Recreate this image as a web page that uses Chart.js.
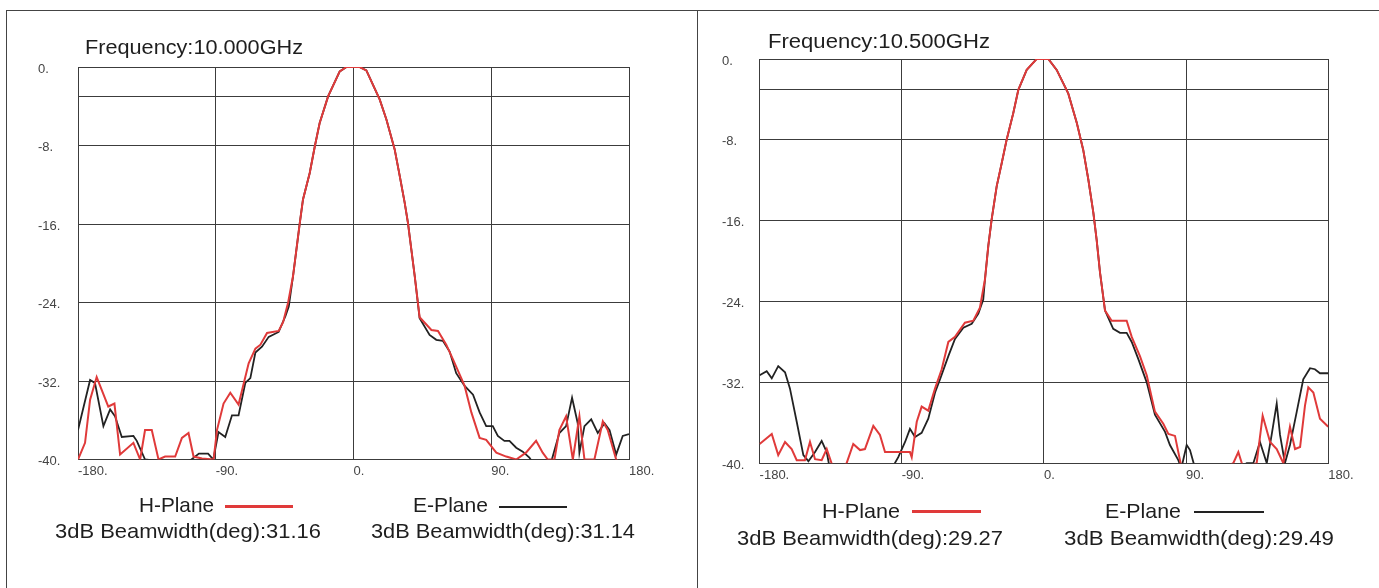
<!DOCTYPE html>
<html>
<head>
<meta charset="utf-8">
<script src="https://cdn.jsdelivr.net/npm/chart.js@4.4.0/dist/chart.umd.min.js"></script>
<style>
  html, body { margin:0; padding:0; background:#fff; }
  #stage { position:relative; width:1379px; height:588px; overflow:hidden; background:#fff; }
  canvas { position:absolute; top:0; }
  .t { position:absolute; white-space:nowrap; font-family:"Liberation Sans", Arial, sans-serif; color:#1e1e1e; transform-origin:0 50%; line-height:1; }
  .ln { position:absolute; background:#444; }
  .sw { position:absolute; height:2px; }
</style>
</head>
<body>
<div id="stage">
  <div class="ln" style="left:6px; top:10px; width:1373px; height:1px;"></div>
  <div class="ln" style="left:6px; top:10px; width:1px; height:578px;"></div>
  <div class="ln" style="left:697px; top:10px; width:1px; height:578px;"></div>
  <canvas id="c1" width="697" height="588" style="left:0;"></canvas>
  <canvas id="c2" width="682" height="588" style="left:697px;"></canvas>

  <div class="t" data-w="218" style="left:85px; top:37px; font-size:20px;">Frequency:10.000GHz</div>
  <div class="t" data-w="222" style="left:768px; top:31px; font-size:20px;">Frequency:10.500GHz</div>

  <div class="t" data-w="75" style="left:139px; top:494px; font-size:21px;">H-Plane</div>
  <div class="sw" style="left:225px; top:505px; width:68px; height:3px; background:#e03a3a;"></div>
  <div class="t" data-w="75" style="left:413px; top:494px; font-size:21px;">E-Plane</div>
  <div class="sw" style="left:499px; top:506px; width:68px; background:#222;"></div>
  <div class="t" data-w="266" style="left:55px; top:520px; font-size:21px;">3dB Beamwidth(deg):31.16</div>
  <div class="t" data-w="264" style="left:371px; top:520px; font-size:21px;">3dB Beamwidth(deg):31.14</div>

  <div class="t" data-w="78" style="left:822px; top:500px; font-size:21px;">H-Plane</div>
  <div class="sw" style="left:912px; top:510px; width:69px; height:3px; background:#e03a3a;"></div>
  <div class="t" data-w="76" style="left:1105px; top:500px; font-size:21px;">E-Plane</div>
  <div class="sw" style="left:1194px; top:511px; width:70px; background:#222;"></div>
  <div class="t" data-w="266" style="left:737px; top:527px; font-size:21px;">3dB Beamwidth(deg):29.27</div>
  <div class="t" data-w="270" style="left:1064px; top:527px; font-size:21px;">3dB Beamwidth(deg):29.49</div>
</div>
<script>
// ---------- data (angle in degrees, level in dB) ----------
const xTicks = [-180, -90, 0, 90, 180];
const yTicks = [-40, -32, -24, -16, -8, -3, 0];

// 10.000 GHz
const h10Angles = [-180,-175.4,-172.1,-167.8,-160.2,-156.2,-152.5,-143.8,-139.4,-136.2,-131.8,-127.4,-123.1,-116.5,-112.1,-107.8,-104.5,-99,-91.4,-89.2,-84.9,-80.5,-75.1,-68.5,-64.1,-60.8,-56.5,-48.9,-46,-42.7,-39.5,-37.3,-35.1,-33,-28.6,-25.3,-22.1,-16.6,-9,-4.6,4,8.4,17.1,21.5,26.9,30.2,33.4,35.6,37.8,40,43.2,50.9,55.2,60.6,65,72.6,77,82.4,86.7,93.3,99.8,106.3,112.7,119.3,123.6,126.9,131.3,134.5,138.9,143.3,147.6,150.9,157.4,162.9,166.1,171.6,180];
const h10Values = [-40,-38.3,-33.9,-31.6,-34.6,-34.3,-39.5,-38.3,-40,-37,-37,-40,-39.7,-39.7,-37.8,-37.3,-39.7,-39.9,-40,-37,-34.3,-33.2,-34.4,-30.2,-28.7,-28.3,-27.1,-26.9,-26,-24,-21.3,-18.6,-15.9,-13.5,-10.8,-8.1,-5.7,-3,-0.45,0,0,-0.35,-3.3,-5.35,-8.4,-11.1,-13.8,-15.9,-18.6,-21.3,-25.5,-26.8,-26.9,-28.3,-29.8,-32.5,-35.2,-37.8,-38,-39.3,-39.7,-40,-39.3,-38.1,-39.3,-40,-40,-37,-35.6,-40,-35.6,-40,-40,-36.1,-37,-40,-41];

const e10Angles = [-180,-172.1,-168.9,-163.4,-159,-155.8,-151.4,-143.8,-141.6,-136.2,-110,-101,-95,-91.6,-88.2,-83.8,-79.4,-75.1,-70.7,-67.4,-64.1,-59.8,-55.4,-48.9,-44.5,-42.3,-39.5,-37.3,-35.1,-33,-28.6,-25.3,-22.1,-16.6,-9,-4.6,4,8.4,17.1,21.5,26.9,30.2,33.4,35.6,37.8,40,43.2,49.7,54.1,58.4,62.8,67.1,72.6,78.1,82.4,86.7,91,94.3,98.6,101.9,106.3,110.6,114.9,120,129.6,134.5,138.9,142.8,146.5,147.6,150.9,155.3,159.6,164,167.3,171.6,175.9,180];
const e10Values = [-37,-31.9,-32.2,-36.6,-34.9,-35.6,-37.7,-37.6,-38.1,-40,-40.5,-39.4,-39.4,-40,-37.2,-37.7,-35.5,-35.5,-32.2,-31.7,-29.1,-28.5,-27.5,-27,-25.4,-24.4,-21.3,-18.6,-15.9,-13.5,-10.8,-8.1,-5.7,-3,-0.45,0,0,-0.35,-3.3,-5.35,-8.4,-11.1,-13.8,-15.9,-18.6,-21.3,-25.6,-27.3,-27.8,-27.9,-29,-31.2,-32.5,-33.4,-35.2,-36.6,-36.6,-37.6,-38.1,-38.1,-38.8,-39.2,-39.8,-41,-40,-37.3,-36.6,-33.7,-36.3,-39.3,-36.6,-35.9,-37.3,-36.3,-37,-39.5,-37.6,-37.4];

// 10.500 GHz
const h105Angles = [-180,-172.3,-168.2,-163.9,-159.7,-156.5,-151.3,-148.1,-144.9,-140.7,-137.5,-132.3,-124.9,-120.7,-116.4,-113.3,-108,-103.8,-100.6,-90,-84.8,-83.7,-80.5,-77.4,-73.2,-68.9,-64.7,-60.5,-56.3,-50,-44.7,-40.5,-37.3,-35.2,-33.1,-29.9,-26.7,-23.6,-19.4,-16.2,-10.9,-4.6,2.8,8.1,15.4,20.8,24.9,28.1,31.3,33.4,35.5,38.7,42.9,52.4,55.6,60.8,65.1,70.3,75.6,78.8,83,87.2,95,119.9,123.1,126.3,134.7,138.5,143.2,147.4,151.6,155.8,159,162.2,165.3,167.4,170.6,174.8,180];
const h105Values = [-38.1,-37.1,-39.2,-37.9,-38.6,-39.7,-39.7,-37.9,-39.6,-39.7,-38.6,-41,-40,-38.1,-38.7,-38.6,-36.3,-37.2,-38.9,-38.9,-38.9,-39.4,-35.9,-34.4,-34.8,-32.6,-30.7,-28,-27.5,-26.1,-25.9,-24.6,-21.8,-18.5,-15.9,-12.6,-10.3,-8,-5.36,-3.06,-1.08,0,0,-1.08,-3.4,-6.3,-9,-11.9,-15.2,-17.9,-21.1,-24.9,-25.9,-25.9,-27.5,-29.4,-31.3,-34.9,-36.1,-37.1,-37.3,-40.5,-42,-40,-38.9,-40.5,-40,-35.3,-37.9,-38.6,-40,-36.4,-38.6,-38.4,-34.3,-32.5,-33,-35.6,-36.4];

const e105Angles = [-180,-175.5,-172.3,-168.2,-163.9,-160.8,-156.5,-152.3,-149.1,-144.9,-140.7,-137.5,-135,-98,-92.2,-87.9,-84.8,-81.6,-77.4,-73.2,-68.9,-65.8,-60.5,-56.3,-51,-45.7,-41.5,-38.4,-37.3,-35.2,-33.1,-29.9,-26.7,-23.6,-19.4,-16.2,-10.9,-4.6,2.8,8.1,15.4,20.8,24.9,28.1,31.3,33.4,35.5,38.7,43.9,48.2,52.4,55.6,59.8,65.1,70.3,76.7,79.8,85.1,87,90.4,92.5,95.7,110,128.4,132.6,136.8,141.1,144.2,147.4,149.5,152.6,155.8,160.1,164.2,168.5,171.6,174.8,180];
const e105Values = [-31.3,-30.9,-31.6,-30.4,-31,-32.6,-35.9,-39.2,-39.8,-38.9,-37.8,-38.9,-41,-41,-39.4,-37.9,-36.6,-37.4,-37,-35.6,-33,-31.7,-29.4,-27.7,-26.6,-26.2,-25.2,-23.8,-21.8,-18.5,-15.9,-12.6,-10.3,-8,-5.36,-3.06,-1.08,0,0,-1.08,-3.4,-6.3,-9,-11.9,-15.2,-17.9,-21.1,-24.9,-26.7,-27.1,-27.1,-28,-29.7,-32,-35.2,-36.9,-38.2,-39.7,-40.5,-38.2,-38.7,-40.5,-42,-40,-40,-37.9,-40,-37.2,-34.1,-37.2,-40,-38.2,-34.9,-31.7,-30.6,-30.7,-31.1,-31.1];

// ---------- fit text widths ----------
document.querySelectorAll('.t').forEach(el => {
  const target = parseFloat(el.dataset.w);
  const w = el.getBoundingClientRect().width;
  if (target && w) el.style.transform = 'scaleX(' + (target / w).toFixed(4) + ')';
});

const RED = '#e03a3a';
const BLACK = '#222222';
const GRID = '#3c3c3c';

function pts(a, v) { return a.map((x, i) => ({ x: x, y: v[i] })); }

function makeChart(id, hA, hV, eA, eV, box) {
  const ctx = document.getElementById(id).getContext('2d');
  return new Chart(ctx, {
    type: 'line',
    data: {
      datasets: [
        { label: 'H-Plane', data: pts(hA, hV), borderColor: RED, borderWidth: 2, pointRadius: 0, tension: 0, fill: false },
        { label: 'E-Plane', data: pts(eA, eV), borderColor: BLACK, borderWidth: 1.8, pointRadius: 0, tension: 0, fill: false }
      ]
    },
    options: {
      responsive: false,
      animation: false,
      layout: { padding: { left: box.padL, right: box.padR, top: box.padT, bottom: box.padB } },
      plugins: { legend: { display: false }, tooltip: { enabled: false }, title: { display: false } },
      scales: {
        x: {
          type: 'linear', min: -180, max: 180,
          afterBuildTicks: s => { s.ticks = xTicks.map(v => ({ value: v })); },
          afterFit: s => { s.height = box.xH; },
          grid: { color: GRID, lineWidth: 1, drawTicks: false },
          border: { color: GRID, width: 1 },
          ticks: { autoSkip: false, maxRotation: 0, align: 'start', padding: 4, color: '#444',
                   font: { family: 'Liberation Sans', size: 13 }, callback: v => v + '.' }
        },
        y: {
          type: 'linear', min: -40, max: 0,
          afterBuildTicks: s => { s.ticks = yTicks.map(v => ({ value: v })); },
          afterFit: s => { s.width = box.yW; },
          grid: { color: GRID, lineWidth: 1, drawTicks: false },
          border: { color: GRID, width: 1 },
          ticks: { autoSkip: false, crossAlign: 'far', padding: 4, color: '#444', labelOffset: 2,
                   font: { family: 'Liberation Sans', size: 13 }, callback: v => (v === -3 ? '' : v + '.') }
        }
      }
    }
  });
}

makeChart('c1', h10Angles, h10Values, e10Angles, e10Values,
  { padL: 38, yW: 40, padR: 68, padT: 67, xH: 20, padB: 108.5 });
makeChart('c2', h105Angles, h105Values, e105Angles, e105Values,
  { padL: 25, yW: 37.6, padR: 50.8, padT: 59, xH: 20, padB: 104.8 });
</script>
</body>
</html>
